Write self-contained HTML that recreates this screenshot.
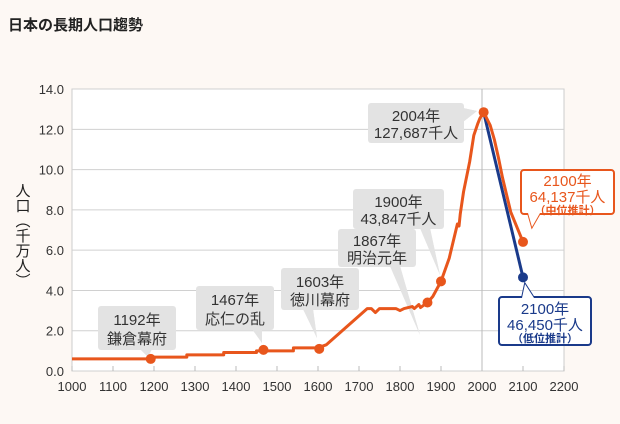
<!DOCTYPE html>
<html><head><meta charset="utf-8"><style>
body{margin:0;background:#fdf8f4;font-family:"Liberation Sans","Noto Sans CJK JP",sans-serif;}
#wrap{position:relative;width:620px;height:424px;overflow:hidden;}
</style></head><body><div id="wrap">
<svg id="c" width="620" height="424" font-family="Liberation Sans, Noto Sans CJK JP, sans-serif"></svg>
</div>
<script>
const histYears=[1000,1190,1190,1280,1280,1370,1370,1450,1450,1540,1540,1600,1620,1720,1730,1740,1750,1790,1800,1810,1830,1835,1846,1850,1867,1880,1900,1920,1940,1944,1947,1955,1970,1980,1990,1995,2004];
const histValues=[0.60,0.60,0.69,0.69,0.80,0.80,0.92,0.92,1.00,1.00,1.15,1.15,1.30,3.10,3.10,2.90,3.10,3.10,3.00,3.10,3.20,3.10,3.30,3.15,3.40,3.70,4.45,5.60,7.30,7.20,7.80,8.90,10.40,11.70,12.30,12.55,12.85];
const midYears=[2004,2020,2030,2040,2050,2070,2100];
const midValues=[12.85,12.2,11.5,10.6,9.6,7.9,6.41];
const lowYears=[2004,2100];
const lowValues=[12.85,4.65];
const yTicks=[0,2,4,6,8,10,12,14];
const xTicks=[1000,1100,1200,1300,1400,1500,1600,1700,1800,1900,2000,2100,2200];
const markYears=[1192,1467,1603,1867,1900,2004,2100];
const markValues=[0.60,1.05,1.10,3.40,4.45,12.85,6.41];

const X=y=>72+(y-1000)*0.41;
const Y=v=>371-v*20.14;
const svg=document.getElementById('c');
const NS='http://www.w3.org/2000/svg';
function mk(t,a,p){const e=document.createElementNS(NS,t);for(const k in a)e.setAttribute(k,a[k]);(p||svg).appendChild(e);return e;}

const title=mk('text',{x:8,y:30,'font-size':15,'font-weight':'bold',fill:'#222'});title.textContent='日本の長期人口趨勢';



const plot=mk('rect',{x:72,y:89,width:492,height:282,fill:'#fff',stroke:'#ccc'});



yTicks.forEach(v=>{
 const g=mk('line',{x1:72,x2:564,y1:Y(v),y2:Y(v),stroke:'#d0d0d0'});
 
 
 const t=mk('text',{x:64,y:Y(v)+5,'text-anchor':'end','font-size':13,fill:'#333'});t.textContent=v.toFixed(1);
 
 
});
xTicks.forEach(y=>{
 const tk=mk('line',{x1:X(y),x2:X(y),y1:366,y2:371,stroke:'#bbb'});
 
 
 const t=mk('text',{x:X(y),y:391,'text-anchor':'middle','font-size':13,fill:'#333'});t.textContent=y;
 
 
});
const v2000=mk('line',{x1:X(2000),x2:X(2000),y1:89,y2:371,stroke:'#bbb'});



const yt=mk('text',{x:22,y:183,'font-size':15,fill:'#222','writing-mode':'tb'});yt.textContent='人口（千万人）';



function callout(x,y,w,h,lines,tip,fill,stroke,color,name){
 const g=mk('g',{});
 
 
 mk('polygon',{points:tip,fill:fill,stroke:stroke||'none','stroke-width':2},g);
 mk('rect',{x:x,y:y,width:w,height:h,rx:3,fill:fill,stroke:stroke||'none','stroke-width':2},g);
 mk('polygon',{points:tip,fill:fill},g);
 lines.forEach(l=>{const t=mk('text',{x:x+w/2,y:y+l[1],'text-anchor':'middle','font-size':l[2]||15,fill:color,'font-weight':l[3]||'normal'},g);t.textContent=l[0];});
}
const G='#e3e3e3';
callout(98,306,78,44,[['1192年',19],['鎌倉幕府',38]],'140,349 152,349 148,357',G,null,'#333','callout-1192');
callout(196,286,78,44,[['1467年',19],['応仁の乱',38]],'252,329 262,329 262,343',G,null,'#333','callout-1467');
callout(281,268,78,42,[['1603年',19],['徳川幕府',37]],'303,309 313,309 317,338',G,null,'#333','callout-1603');
callout(338,229,78,38,[['1867年',17],['明治元年',34]],'390,266 400,266 420,335',G,null,'#333','callout-1867');
callout(353,189,91,40,[['1900年',18],['43,847千人',35]],'420,228 430,228 440,275',G,null,'#333','callout-1900');
callout(368,103,96,40,[['2004年',18],['127,687千人',35]],'463,108 463,122 477,111',G,null,'#333','callout-2004');
callout(521,170,93,44,[['2100年',16],['64,137千人',32],['（中位推計）',44,11,'bold']],'528,213 540,213 532,227','#fff','#e8561c','#e8561c','callout-2100-mid');
callout(499,297,92,48,[['2100年',17],['46,450千人',33],['（低位推計）',45,11,'bold']],'522,298 534,298 525,284','#fff','#1a3a8a','#1a3a8a','callout-2100-low');

function line(xs,vs,col,name){
 const p=mk('polyline',{points:xs.map((y,i)=>X(y)+','+Y(vs[i])).join(' '),fill:'none',stroke:col,'stroke-width':3,'stroke-linejoin':'round'});
 
 
}
line(lowYears,lowValues,'#1a3a8a','low-projection-line');
line(histYears,histValues,'#e8561c','historical-line');
line(midYears,midValues,'#e8561c','mid-projection-line');
markYears.forEach((y,i)=>{
 const c=mk('circle',{cx:X(y),cy:Y(markValues[i]),r:5,fill:'#e8561c'});
 
 
});
const lc=mk('circle',{cx:X(2100),cy:Y(lowValues[1]),r:5,fill:'#1a3a8a'});


</script></body></html>
